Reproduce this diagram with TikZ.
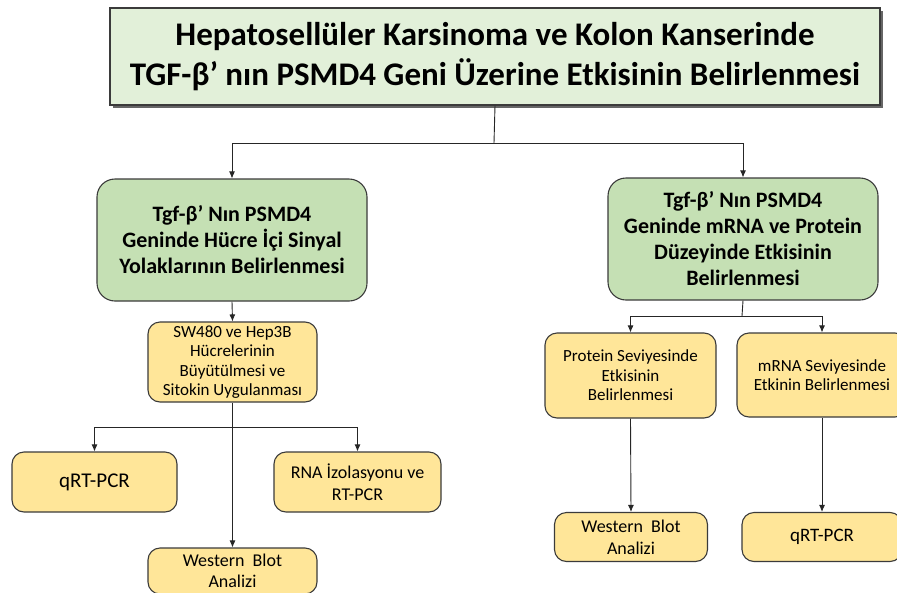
\documentclass[tikz,border=0pt]{standalone}
\usepackage{fontspec}
\setmainfont{Carlito}
\usetikzlibrary{arrows.meta,shadows}
\definecolor{titlegreen}{HTML}{E2F0D9}
\definecolor{midgreen}{HTML}{C5E0B4}
\definecolor{lightyellow}{HTML}{FFE699}
\definecolor{boxline}{HTML}{3B3B3B}
\tikzset{
  box/.style={draw=boxline, line width=1.1pt, align=center, inner sep=2pt},
  titlebox/.style={box, fill=titlegreen, minimum width=770pt, minimum height=97pt,
    font=\fontsize{33}{40}\selectfont\bfseries,
    drop shadow={shadow xshift=3pt, shadow yshift=-3pt, fill=black, opacity=0.6}},
  greenbox/.style={box, rounded corners=18pt, fill=midgreen, minimum width=270pt,
    minimum height=122pt, font=\fontsize{22}{26}\selectfont\bfseries},
  yellowbox/.style={box, rounded corners=12pt, fill=lightyellow,
    font=\fontsize{17}{19.5}\selectfont},
  arr/.style={-{Latex[length=7pt,width=6pt]}, line width=0.9pt, draw=black!85},
  link/.style={line width=0.9pt, draw=black!85},
}
\begin{document}
\begin{tikzpicture}[x=1pt,y=-1pt]
  \useasboundingbox (0,0) rectangle (897,592);

  % title
  \node[titlebox] (title) at (495,56.5) {Hepatosellüler Karsinoma ve Kolon Kanserinde\\TGF-β’ nın PSMD4 Geni Üzerine Etkisinin Belirlenmesi};

  % second level
  \node[greenbox] (lg) at (232,240) {Tgf-β’ Nın PSMD4\\Geninde Hücre İçi Sinyal\\Yolaklarının Belirlenmesi};
  \node[greenbox] (rg) at (743,239) {Tgf-β’ Nın PSMD4\\Geninde mRNA ve Protein\\Düzeyinde Etkisinin\\Belirlenmesi};

  % left branch
  \node[yellowbox, minimum width=169pt, minimum height=80pt] (sw) at (232.5,362) {SW480 ve Hep3B\\Hücrelerinin\\Büyütülmesi ve\\Sitokin Uygulanması};
  \node[yellowbox, minimum width=165pt, minimum height=60pt, font=\fontsize{21}{24}\selectfont] (q1) at (94.5,482) {qRT-PCR};
  \node[yellowbox, minimum width=167pt, minimum height=60pt, font=\fontsize{18}{22}\selectfont] (rna) at (357.5,482) {RNA İzolasyonu ve\\RT-PCR};
  \node[yellowbox, minimum width=169pt, minimum height=46pt, font=\fontsize{18}{21}\selectfont] (wb1) at (232.5,571) {Western~ Blot\\Analizi};

  % right branch
  \node[yellowbox, minimum width=171pt, minimum height=85pt] (prot) at (630.5,375.5) {Protein Seviyesinde\\Etkisinin\\Belirlenmesi};
  \node[yellowbox, minimum width=170pt, minimum height=84pt] (mrna) at (822,375) {mRNA Seviyesinde\\Etkinin Belirlenmesi};
  \node[yellowbox, minimum width=153pt, minimum height=49pt, font=\fontsize{18}{22}\selectfont] (wb2) at (631,537) {Western~ Blot\\Analizi};
  \node[yellowbox, minimum width=160pt, minimum height=49pt, font=\fontsize{19}{22}\selectfont] (q2) at (822,537) {qRT-PCR};

  % junctions
  \coordinate (tj) at (494,143);
  \coordinate (lj) at (232.5,427);
  \coordinate (rj) at (742,316);

  % connectors
  \draw[link] (title.south) -- (tj);
  \draw[arr] (tj) -| (lg.north);
  \draw[arr] (tj) -| (rg.north);

  \draw[arr] (lg.south) -- (sw.north);
  \draw[arr] (sw.south) -- (wb1.north);
  \draw[arr] (lj) -| (q1.north);
  \draw[arr] (lj) -| (rna.north);

  \draw[link] (rg.south) -- (rj);
  \draw[arr] (rj) -| (prot.north);
  \draw[arr] (rj) -| (mrna.north);
  \draw[arr] (prot.south) -- (wb2.north);
  \draw[arr] (mrna.south) -- (q2.north);
\end{tikzpicture}
\end{document}
